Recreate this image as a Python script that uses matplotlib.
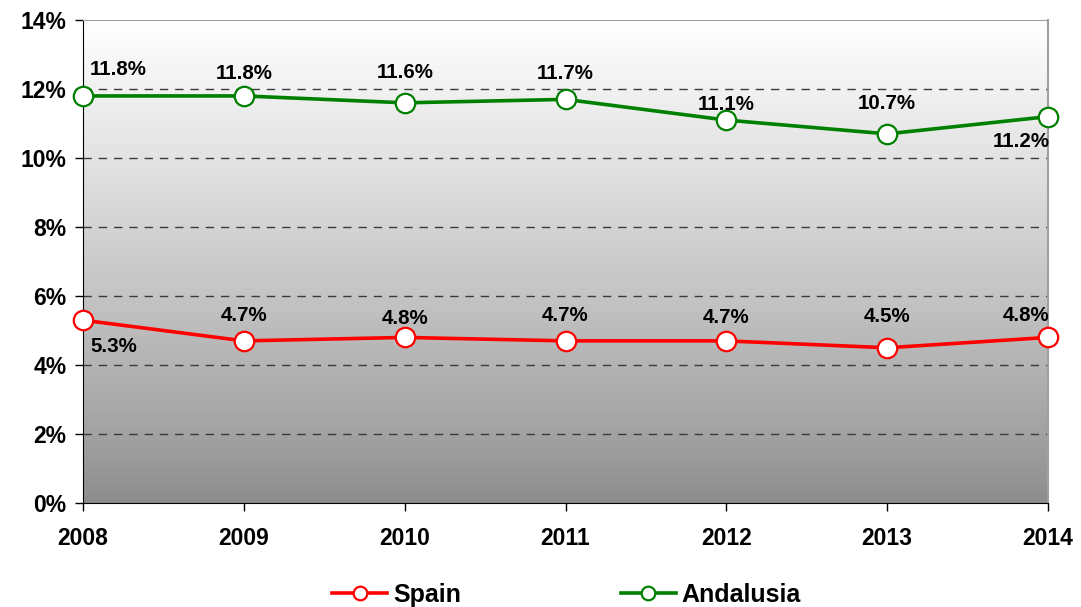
import numpy as np
import matplotlib
matplotlib.use("Agg")
import matplotlib.pyplot as plt
from matplotlib.ticker import FuncFormatter

plt.rcParams["font.family"] = ["Liberation Sans", "DejaVu Sans"]
plt.rcParams["font.weight"] = "bold"

years = ["2008", "2009", "2010", "2011", "2012", "2013", "2014"]
spain = [5.3, 4.7, 4.8, 4.7, 4.7, 4.5, 4.8]
andalusia = [11.8, 11.8, 11.6, 11.7, 11.1, 10.7, 11.2]

# label vertical offsets (points) as placed in the original chart
spain_dy = [-18.7, 18, 13.7, 18, 16.5, 22.3, 15.8]
andal_dy = [18.7, 15.8, 21.6, 18.7, 11.5, 21.6, -18]

RED = "#ff0000"
GREEN = "#008000"

fig = plt.figure(figsize=(10.81, 6.07), dpi=100)
ax = fig.add_axes([0.0768, 0.1713, 0.8927, 0.7957])
x = np.arange(len(years))

# vertical gradient background, white at top -> grey at bottom
grad = np.linspace(0, 1, 256).reshape(-1, 1) ** 0.85
ax.imshow(grad, extent=[0, len(years) - 1, 0, 14], aspect="auto",
          cmap=matplotlib.colors.LinearSegmentedColormap.from_list(
              "bg", ["#8c8c8c", "#ffffff"]), origin="lower", zorder=0)

for v in range(2, 14, 2):
    ax.axhline(v, color="#3a3a3a", lw=1.0, ls=(0, (6, 5)), zorder=1)

for vals, col, name in [(spain, RED, "Spain"), (andalusia, GREEN, "Andalusia")]:
    ax.plot(x, vals, color=col, lw=2.6, marker="o", ms=14, mfc="white",
            mec=col, mew=1.6, label=name, clip_on=False, zorder=3)

last = len(years) - 1
for vals, offs in [(andalusia, andal_dy), (spain, spain_dy)]:
    for i, (v, dy) in enumerate(zip(vals, offs)):
        if i == 0:
            dx, ha = 5, "left"
        elif i == last:
            dx, ha = 1, "right"
        else:
            dx, ha = 0, "center"
        ax.annotate(f"{v:.1f}%", (i, v), xytext=(dx, dy),
                    textcoords="offset points", ha=ha, va="center",
                    fontsize=14.8, fontweight="bold", zorder=4)

ax.set_xlim(0, last)
ax.set_ylim(0, 14)
ax.set_yticks(range(0, 15, 2))
ax.yaxis.set_major_formatter(FuncFormatter(lambda v, p: f"{v:.0f}%"))
ax.set_xticks(x)
ax.set_xticklabels(years)
ax.tick_params(axis="both", labelsize=16.5, direction="out", length=6, width=1)
ax.tick_params(axis="y", pad=6)
ax.tick_params(axis="x", pad=11)
for t in ax.get_xticklabels() + ax.get_yticklabels():
    t.set_fontweight("bold")
ax.spines["left"].set_color("black")
ax.spines["bottom"].set_color("black")
ax.spines["top"].set_color("#a0a0a0")
ax.spines["right"].set_color("#a0a0a0")
ax.spines["right"].set_linewidth(1.5)

leg = fig.legend(loc="lower center", bbox_to_anchor=(0.524, -0.037), ncol=2,
                 frameon=False, prop={"size": 18, "weight": "bold"},
                 handlelength=2.2, columnspacing=6.4, handletextpad=0.22,
                 markerscale=0.7)

fig.savefig("out.png", dpi=100)
